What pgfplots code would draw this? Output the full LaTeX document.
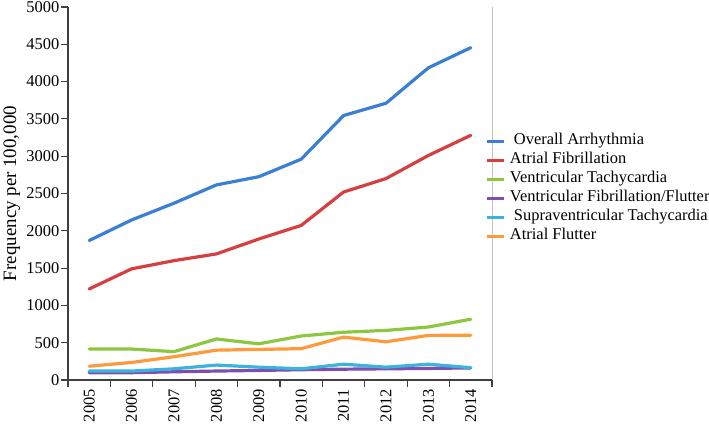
\documentclass[border=0pt]{standalone}
\usepackage{fontspec}
\setmainfont{Liberation Serif}
\usepackage{pgfplots}
\pgfplotsset{compat=1.18}
\definecolor{cBlue}{HTML}{3A7FD5}
\definecolor{cRed}{HTML}{D63F3F}
\definecolor{cGreen}{HTML}{8DC63F}
\definecolor{cPurple}{HTML}{7E4FAE}
\definecolor{cCyan}{HTML}{3AB4DC}
\definecolor{cOrange}{HTML}{FF9A3C}
\definecolor{cAxis}{HTML}{404040}
\definecolor{cBorder}{HTML}{C9C1B8}
\newcommand{\yr}[1]{#1\hspace{7bp}}
\begin{document}
\fontsize{16.5}{19}\selectfont
\begin{tikzpicture}
\useasboundingbox (0,0) rectangle (709bp,432bp);
\begin{axis}[
  at={(68bp,52bp)}, anchor=south west,
  scale only axis, width=424bp, height=373bp,
  xmin=-0.5, xmax=9.5, ymin=0, ymax=5000,
  axis x line=bottom, axis y line=left,
  axis line style={-, cAxis, line width=1.1pt},
  every tick/.style={cAxis, line width=1.1pt},
  tick align=outside,
  major tick length=7bp, minor tick length=7bp,
  xtick={0,...,9},
  xticklabels={\yr{2005},\yr{2006},\yr{2007},\yr{2008},\yr{2009},\yr{2010},\yr{2011},\yr{2012},\yr{2013},\yr{2014}},
  major x tick style={draw=none},
  minor xtick={-0.5,0.5,1.5,2.5,3.5,4.5,5.5,6.5,7.5,8.5,9.5},
  xticklabel style={rotate=90, anchor=east, inner sep=2bp},
  ytick={0,500,...,5000},
  yticklabel style={inner sep=1.5bp},
  scaled y ticks=false,
  /pgf/number format/assume math mode=true,
  /pgf/number format/1000 sep={},
  ylabel={Frequency per 100,000},
  ylabel style={font=\fontsize{19}{22}\selectfont, yshift=-1bp},
  every axis plot/.append style={line width=3.2bp, line join=round, line cap=round},
  legend cell align=left,
  legend image code/.code={\draw[#1, line width=3bp, line cap=butt] (0bp,0bp) -- (17bp,0bp);},
  legend style={at={(axis description cs:0.9858,0.665)}, anchor=north west,
    draw=none, fill=none, inner sep=0pt, outer sep=0pt,
    nodes={inner sep=0pt, text height=12.5bp, text depth=6.5bp},
    column sep=0bp,
    /tikz/every odd column/.style={column sep=4bp}},
  clip=false,
]
\addplot[cBlue] coordinates {(0,1870) (1,2145) (2,2370) (3,2615) (4,2725) (5,2960) (6,3545) (7,3710) (8,4185) (9,4455)};
\addlegendentry{\hspace{4bp}Overall Arrhythmia}
\addplot[cRed] coordinates {(0,1220) (1,1490) (2,1600) (3,1690) (4,1890) (5,2072) (6,2520) (7,2700) (8,3010) (9,3280)};
\addlegendentry{Atrial Fibrillation}
\addplot[cGreen] coordinates {(0,415) (1,415) (2,380) (3,550) (4,485) (5,590) (6,640) (7,665) (8,710) (9,815)};
\addlegendentry{Ventricular Tachycardia}
\addplot[cPurple] coordinates {(0,98) (1,98) (2,110) (3,120) (4,128) (5,138) (6,145) (7,150) (8,155) (9,162)};
\addlegendentry{Ventricular Fibrillation/Flutter}
\addplot[cCyan] coordinates {(0,120) (1,120) (2,150) (3,200) (4,172) (5,150) (6,212) (7,172) (8,212) (9,165)};
\addlegendentry{\hspace{4bp}Supraventricular Tachycardia}
\addplot[cOrange] coordinates {(0,185) (1,235) (2,312) (3,400) (4,410) (5,420) (6,575) (7,512) (8,598) (9,600)};
\addlegendentry{Atrial Flutter}
\draw[cBorder, line width=0.8pt] (rel axis cs:1,0) -- (rel axis cs:1,1);
\end{axis}
\end{tikzpicture}
\end{document}
